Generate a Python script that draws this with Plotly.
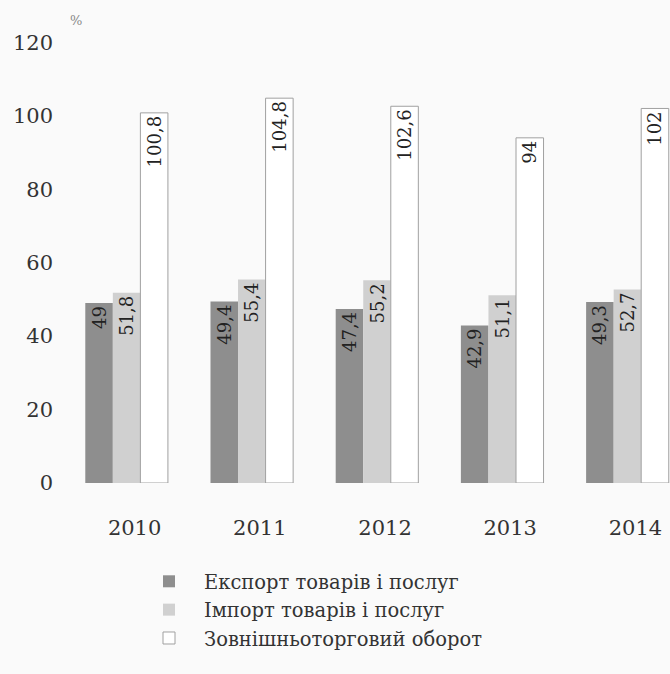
import plotly.graph_objects as go

years = ["2010", "2011", "2012", "2013", "2014"]
export_vals = [49, 49.4, 47.4, 42.9, 49.3]
import_vals = [51.8, 55.4, 55.2, 51.1, 52.7]
turnover_vals = [100.8, 104.8, 102.6, 94, 102]
y_ticks = [0, 20, 40, 60, 80, 100, 120]

series_names = ["Експорт товарів і послуг", "Імпорт товарів і послуг", "Зовнішньоторговий оборот"]

FONT = "DejaVu Serif"
LABEL_FONT = dict(family=FONT, size=18, color="#222222")
fig = go.Figure()
fig.add_trace(go.Bar(
    x=years, y=export_vals, name=series_names[0],
    marker=dict(color="#8e8e8e", line=dict(width=0)),
    texttemplate="%{y}", textposition="inside", insidetextanchor="end",
    textangle=-90, textfont=LABEL_FONT,
))
fig.add_trace(go.Bar(
    x=years, y=import_vals, name=series_names[1],
    marker=dict(color="#d0d0d0", line=dict(width=0)),
    texttemplate="%{y}", textposition="inside", insidetextanchor="end",
    textangle=-90, textfont=LABEL_FONT,
))
fig.add_trace(go.Bar(
    x=years, y=turnover_vals, name=series_names[2],
    marker=dict(color="#ffffff", line=dict(width=1, color="#a0a0a0")),
    texttemplate="%{y}", textposition="inside", insidetextanchor="end",
    textangle=-90, textfont=LABEL_FONT,
))

fig.update_layout(
    width=670, height=674,
    margin=dict(l=64, r=0, t=24, b=191, autoexpand=False),
    paper_bgcolor="#fafafa", plot_bgcolor="#fafafa",
    barmode="group", bargap=0.34, bargroupgap=0,
    separators=", ",
    font=dict(family=FONT, size=18, color="#333333"),
    showlegend=True,
    legend=dict(
        xref="container", yref="container", x=0.2, y=0.166,
        xanchor="left", yanchor="top",
        font=dict(family=FONT, size=19.5, color="#333333"),
        tracegroupgap=0, itemwidth=60, bgcolor="rgba(0,0,0,0)",
    ),
    uniformtext=dict(minsize=18, mode="show"),
)
fig.update_xaxes(
    range=[-0.5, 4.34], showgrid=False, zeroline=False, showline=False,
    ticks="", tickangle=0, ticklabelstandoff=30, ticklabelshift=8,
    tickfont=dict(family=FONT, size=21, color="#333333"),
)
fig.update_yaxes(
    range=[0, 125], tickvals=y_ticks, showgrid=False, zeroline=False, showline=False,
    ticks="", ticklabelstandoff=10, tickfont=dict(family=FONT, size=21, color="#333333"),
)
fig.add_annotation(text="%", xref="paper", yref="paper", x=0.007, y=1, xanchor="left",
                   yanchor="middle", yshift=4, showarrow=False,
                   font=dict(family=FONT, size=13, color="#888888"))

fig.write_html("out.html")
